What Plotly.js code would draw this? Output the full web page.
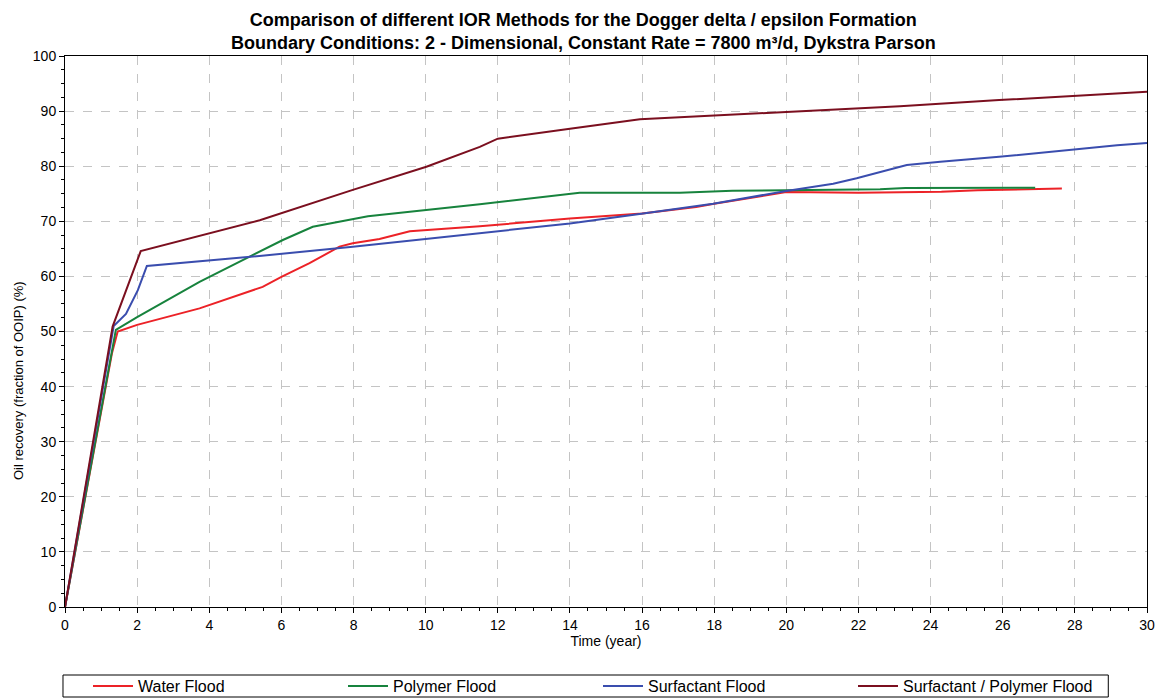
<!DOCTYPE html>
<html>
<head>
<meta charset="utf-8">
<script src="https://cdn.plot.ly/plotly-3.0.1.min.js"></script>
<style>html,body{margin:0;padding:0;background:#fff;}#chart{width:1162px;height:698px;}</style>
</head>
<body>
<div id="chart"></div>
<script>
// Water Flood
const waterX = [0, 1.3, 1.46, 2.0, 3.73, 5.48, 6.0, 6.78, 7.61, 7.98, 8.72, 9.56, 11.5, 14.0, 16.0, 17.5, 18.0, 20.0, 22.0, 24.3, 25.3, 27.64];
const waterY = [0, 46.0, 50.0, 51.2, 54.2, 58.1, 59.9, 62.4, 65.4, 66.0, 66.8, 68.2, 69.1, 70.5, 71.4, 72.6, 73.2, 75.3, 75.2, 75.35, 75.65, 75.95];
// Polymer Flood
const polyX = [0, 1.3, 1.41, 2.0, 3.73, 5.12, 6.04, 6.87, 7.43, 7.98, 8.4, 11.5, 14.27, 17.05, 18.5, 20.0, 22.6, 23.3, 26.9];
const polyY = [0, 47.0, 50.3, 52.6, 59.0, 63.6, 66.6, 69.0, 69.7, 70.3, 70.9, 73.1, 75.2, 75.2, 75.55, 75.65, 75.8, 76.05, 76.1];
// Surfactant Flood
const surfX = [0, 1.35, 1.69, 2.02, 2.27, 3.73, 5.39, 7.98, 8.72, 11.5, 14.0, 16.03, 17.97, 20.0, 21.3, 21.95, 23.34, 24.27, 25.9, 29.17, 30.0];
const surfY = [0, 51.0, 53.2, 57.5, 61.9, 62.7, 63.7, 65.4, 65.9, 67.8, 69.6, 71.4, 73.2, 75.5, 76.8, 77.8, 80.2, 80.8, 81.7, 83.8, 84.2];
// Surfactant / Polymer Flood
const spX = [0, 1.32, 2.1, 3.73, 5.4, 7.98, 10.02, 11.5, 12.0, 14.0, 15.5, 15.94, 20.0, 23.15, 25.9, 30.0];
const spY = [0, 50.9, 64.6, 67.3, 70.2, 75.7, 79.9, 83.5, 85.0, 86.8, 88.2, 88.5, 89.85, 90.9, 92.0, 93.5];

const names = ["Water Flood", "Polymer Flood", "Surfactant Flood", "Surfactant / Polymer Flood"];
const colors = ["#ec2227", "#17833d", "#3a4dae", "#7b0f1f"];
const xs = [waterX, polyX, surfX, spX];
const ys = [waterY, polyY, surfY, spY];

const FONT = "Liberation Sans, Arial, sans-serif";

const traces = names.map((n, i) => ({
  x: xs[i], y: ys[i], name: n, type: "scatter", mode: "lines",
  line: {color: colors[i], width: 2}
}));

const axisCommon = {
  showline: true, linecolor: "#000", linewidth: 1, mirror: true,
  ticks: "outside", ticklen: 5, tickcolor: "#000",
  showgrid: true, gridcolor: "#c4c4c4", griddash: "dash", gridwidth: 1,
  zeroline: false,
  tickfont: {family: FONT, size: 14, color: "#000"}
};

const layout = {
  width: 1162, height: 698,
  paper_bgcolor: "#fff", plot_bgcolor: "#fff",
  margin: {l: 65, r: 15, t: 56, b: 91, autoexpand: false},
  title: {
    text: "Comparison of different IOR Methods for the Dogger delta / epsilon Formation<br>Boundary Conditions: 2 - Dimensional, Constant Rate = 7800 m³/d, Dykstra Parson",
    font: {family: FONT, size: 18, color: "#000", weight: "bold"},
    x: 0.502, xanchor: "center", xref: "container",
    y: 1 - 26 / 698, yanchor: "middle", yref: "container"
  },
  xaxis: Object.assign({}, axisCommon, {
    range: [0, 30], dtick: 2, tick0: 0,
    minor: {dtick: 0.5, ticks: "outside", ticklen: 3, tickcolor: "#000", showgrid: false},
    title: {text: "Time (year)", font: {family: FONT, size: 14, color: "#000"}, standoff: 4}
  }),
  yaxis: Object.assign({}, axisCommon, {
    range: [0, 100], dtick: 10, tick0: 0,
    minor: {dtick: 2.5, ticks: "outside", ticklen: 3, tickcolor: "#000", showgrid: false},
    title: {text: ""}
  }),
  annotations: [{
    text: "Oil recovery (fraction of OOIP) (%)",
    xref: "paper", yref: "paper", x: (18 - 65) / 1081.7, y: (607 - 380) / 551,
    xanchor: "center", yanchor: "middle", textangle: -90, showarrow: false,
    font: {family: FONT, size: 13, color: "#000"}
  }],
  shapes: [{
    type: "rect", xref: "paper", yref: "paper",
    x0: (63 - 65) / 1081.7, x1: (1108 - 65) / 1081.7,
    y0: -(697 - 607) / 551, y1: -(675 - 607) / 551,
    line: {color: "#000", width: 1}, fillcolor: "rgba(0,0,0,0)"
  }],
  showlegend: true,
  legend: {
    orientation: "h", xref: "container", x: 88 / 1162, xanchor: "left",
    yref: "container", y: 1 - 686 / 698, yanchor: "middle",
    borderwidth: 0, bgcolor: "rgba(0,0,0,0)",
    font: {family: FONT, size: 16, color: "#000"},
    entrywidth: 200, itemwidth: 40, tracegroupgap: 0
  }
};

Plotly.newPlot("chart", traces, layout, {displayModeBar: false, staticPlot: true});
</script>
</body>
</html>
